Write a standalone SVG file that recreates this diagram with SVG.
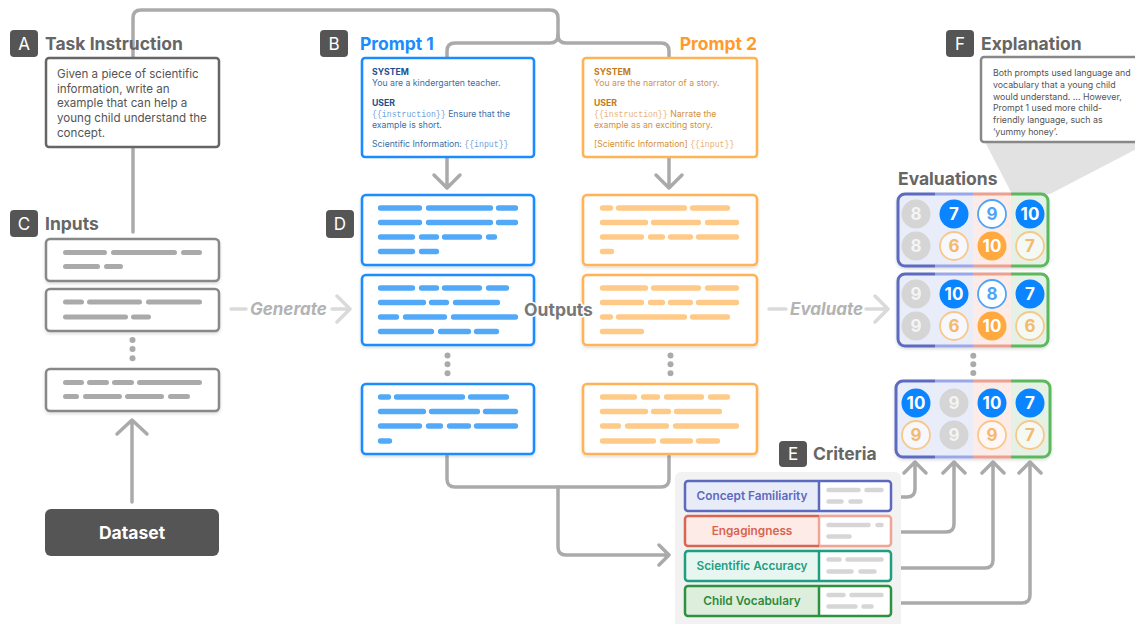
<svg xmlns="http://www.w3.org/2000/svg" width="1135" height="624" viewBox="0 0 1135 624">
<defs>
<style>
text{font-family:Inter,"Liberation Sans",sans-serif}
.badge rect{fill:#555}
.badge text{fill:#fff;font-size:17px;text-anchor:middle}
.title{font-size:17.5px;font-weight:700;fill:#666}
.conn{fill:none;stroke:#aaa;stroke-width:3.5;stroke-linecap:round;stroke-linejoin:round}
.flow{fill:none;stroke:#dadada;stroke-width:3.5;stroke-linecap:round;stroke-linejoin:round}
.flowlbl{font-size:17px;font-weight:700;font-style:italic;fill:#b3b3b3}
.inbox{fill:#fff;stroke:#888;stroke-width:2.5}
.gbar{fill:none;stroke:#aaa;stroke-width:5;stroke-linecap:round}
.bbar{fill:none;stroke:#52a9f7;stroke-width:5.3;stroke-linecap:round}
.obar{fill:none;stroke:#ffca88;stroke-width:5.3;stroke-linecap:round}
.cbar{fill:none;stroke:#d6d6d6;stroke-width:4.5;stroke-linecap:round}
.bout{fill:#fff;stroke:#1a8cff;stroke-width:2.6}
.oout{fill:#fff;stroke:#ffb357;stroke-width:2.6}
.dot{fill:#aaa}
.p1h{font-size:8.7px;font-weight:700;fill:#1d4f91}
.p1t{font-size:8.7px;fill:#3a6ea8}
.p1m{font-family:"Liberation Mono",monospace;fill:#6fa3dc}
.p2h{font-size:8.7px;font-weight:700;fill:#c47a17}
.p2t{font-size:8.7px;fill:#d4903a}
.p2m{font-family:"Liberation Mono",monospace;fill:#e8b274}
.n{font-size:17px;font-weight:700;text-anchor:middle}
.cg{fill:#d5d5d5}
.cb{fill:#0a84ff}
.cbo{fill:#fff;stroke:#4ea5f7;stroke-width:1.8}
.co{fill:#ffa940}
.coo{fill:#fff;fill-opacity:.6;stroke:#f8c88b;stroke-width:1.8}
.tg{fill:#f4f4f4}
.tw{fill:#fff}
.tb{fill:#4ea5f7}
.to{fill:#f3b96c}
.eb{fill:none;stroke-width:3}
.crit{font-size:11.8px;font-weight:600;text-anchor:middle}
</style>
<filter id="sh" x="-10%" y="-10%" width="120%" height="130%">
<feDropShadow dx="0" dy="1.5" stdDeviation="1.5" flood-color="#000" flood-opacity="0.15"/>
</filter>
<clipPath id="ec1"><rect x="898" y="194" width="150" height="72" rx="7"/></clipPath>
<clipPath id="ec2"><rect x="898" y="274" width="150" height="72" rx="7"/></clipPath>
<clipPath id="ec3"><rect x="896" y="381" width="154" height="76" rx="7"/></clipPath>
</defs>
<rect width="1135" height="624" fill="#fff"/>

<!-- callout wedge -->
<polygon points="985,142 1150,142 1050,194 1012,194" fill="#e2e2e2"/>

<g id="connectors">
<path class="conn" d="M133,232V18Q133,10 141,10H550Q558,10 558,18V35Q558,43 550,43H455Q447,43 447,51V58"/>
<path class="conn" d="M558,35Q558,43 566,43H661Q669,43 669,51V58"/>
<path class="conn" d="M447,158V187M434,175L447,188L460,175"/>
<path class="conn" d="M669,158V187M656,175L669,188L682,175"/>
<path class="conn" d="M132,502V421M117,434L132,420L147,434"/>
<path class="conn" d="M447,456V479Q447,487 455,487H661Q669,487 669,479V456"/>
<path class="conn" d="M558,487V547Q558,555 566,555H668M659,545L669,555L659,565"/>
<path class="conn" d="M892,497H907Q915,497 915,489V463M904,473L915,462L926,473"/>
<path class="conn" d="M892,532H946Q954,532 954,524V463M943,473L954,462L965,473"/>
<path class="conn" d="M892,568H985Q993,568 993,560V463M982,473L993,462L1004,473"/>
<path class="conn" d="M892,603H1022Q1030,603 1030,595V463M1019,473L1030,462L1041,473"/>
<path class="flow" d="M231,309H246M332,309H346M337,296L350,309L337,322"/>
<text class="flowlbl" x="250" y="315">Generate</text>
<path class="flow" d="M769,309H786M866,309H884M875,296L888,309L875,322"/>
<text class="flowlbl" x="790" y="315">Evaluate</text>
</g>

<g id="task-instruction">
<g class="badge"><rect x="10" y="30" width="28" height="27" rx="4"/><text x="24" y="50">A</text></g>
<text class="title" x="45" y="50">Task Instruction</text>
<rect x="46" y="58" width="173" height="89" rx="3" fill="#fff" stroke="#666" stroke-width="2.5"/>
<g font-size="11.6" fill="#555">
<text x="57" y="78">Given a piece of scientific</text>
<text x="57" y="92.7">information, write an</text>
<text x="57" y="107.3">example that can help a</text>
<text x="57" y="122">young child understand the</text>
<text x="57" y="136.7">concept.</text>
</g>
</g>

<g id="inputs">
<g class="badge"><rect x="10" y="210" width="28" height="27" rx="4"/><text x="24" y="230">C</text></g>
<text class="title" x="45" y="230">Inputs</text>
<rect class="inbox" x="46" y="239" width="173" height="42" rx="4" filter="url(#sh)"/>
<path class="gbar" d="M65.5,252.5H104.5M113.5,252.5H174.5M183.5,252.5H199.5M65.5,266.5H97.5M106.5,266.5H120.5"/>
<rect class="inbox" x="46" y="289" width="173" height="42" rx="4" filter="url(#sh)"/>
<path class="gbar" d="M65.5,302H81.5M89.5,302H139.5M148.5,302H199.5M65.5,317H125.5M133.5,317H148.5"/>
<circle class="dot" cx="132.5" cy="340" r="3"/><circle class="dot" cx="132.5" cy="349" r="3"/><circle class="dot" cx="132.5" cy="358.3" r="3"/>
<rect class="inbox" x="46" y="369" width="173" height="42" rx="4" filter="url(#sh)"/>
<path class="gbar" d="M65.5,382.5H81.5M89.5,382.5H106.5M114.5,382.5H131.5M139.5,382.5H199.5M65.5,396.5H76.5M85.5,396.5H119.5M127.5,396.5H161.5M170.5,396.5H187.5"/>
</g>

<g id="dataset">
<rect x="45" y="509" width="174" height="47" rx="6" fill="#555"/>
<text x="132" y="539" font-size="17.5" font-weight="700" fill="#fff" text-anchor="middle">Dataset</text>
</g>

<g id="prompt-1">
<g class="badge"><rect x="320" y="30" width="28" height="27" rx="4"/><text x="334" y="50">B</text></g>
<text x="360" y="50" font-size="17.5" font-weight="700" fill="#1a8cff">Prompt 1</text>
<rect class="bout" x="362" y="58" width="172" height="99" rx="3"/>
<text class="p1h" x="372" y="75">SYSTEM</text>
<text class="p1t" x="372" y="86">You are a kindergarten teacher.</text>
<text class="p1h" x="372" y="106">USER</text>
<text class="p1t" x="372" y="117"><tspan class="p1m" font-size="8.2">{{instruction}}</tspan> Ensure that the</text>
<text class="p1t" x="372" y="127.5">example is short.</text>
<text class="p1t" x="372" y="147">Scientific Information: <tspan class="p1m" font-size="8.2">{{input}}</tspan></text>
</g>

<g id="prompt-2">
<text x="757" y="50" font-size="17.5" font-weight="700" fill="#ff9a2e" text-anchor="end">Prompt 2</text>
<rect class="oout" x="583" y="58" width="174" height="99" rx="3"/>
<text class="p2h" x="594" y="75">SYSTEM</text>
<text class="p2t" x="594" y="86">You are the narrator of a story.</text>
<text class="p2h" x="594" y="106">USER</text>
<text class="p2t" x="594" y="117"><tspan class="p2m" font-size="8.2">{{instruction}}</tspan>  Narrate the</text>
<text class="p2t" x="594" y="127.5">example as an exciting story.</text>
<text class="p2t" x="594" y="147">[Scientific Information] <tspan class="p2m" font-size="8.2">{{input}}</tspan></text>
</g>

<g id="outputs">
<g class="badge"><rect x="326" y="210" width="28" height="28" rx="4"/><text x="340" y="230">D</text></g>
<rect class="bout" x="362" y="195" width="172" height="70" rx="4" filter="url(#sh)"/>
<path class="bbar" d="M380.5,208H419.5M428.5,208H490.5M498.5,208H515.5M380.5,222.5H419.5M428.5,222.5H490.5M498.5,222.5H515.5M380.5,237H412.5M421.5,237H436.5M444.5,237H479.5M488.5,237H494.5M380.5,251.5H412.5M421.5,251.5H436.5"/>
<rect class="bout" x="362" y="275" width="172" height="70" rx="4" filter="url(#sh)"/>
<path class="bbar" d="M380.5,288H412.5M421.5,288H436.5M444.5,288H479.5M488.5,288H506.5M380.5,302.5H423.5M431.5,302.5H446.5M455.5,302.5H497.5M380.5,317H396.5M405.5,317H444.5M453.5,317H515.5M380.5,331.5H431.5M440.5,331.5H468.5M476.5,331.5H496.5"/>
<circle class="dot" cx="447.5" cy="355.5" r="3"/><circle class="dot" cx="447.5" cy="364.3" r="3"/><circle class="dot" cx="447.5" cy="373.3" r="3"/>
<rect class="bout" x="362" y="384" width="172" height="70" rx="4" filter="url(#sh)"/>
<path class="bbar" d="M380.5,397H388.5M396.5,397H462.5M470.5,397H506.5M380.5,411.5H423.5M431.5,411.5H477.5M485.5,411.5H515.5M380.5,426H419.5M428.5,426H440.5M449.5,426H468.5M476.5,426H515.5M380.5,441H389.5"/>

<rect class="oout" x="583" y="195" width="174" height="70" rx="4" filter="url(#sh)"/>
<path class="obar" d="M602.5,208H610.5M618.5,208H684.5M692.5,208H727.5M602.5,222.5H645.5M653.5,222.5H698.5M707.5,222.5H736.5M602.5,237H641.5M650.5,237H662.5M670.5,237H690.5M698.5,237H736.5M602.5,251.5H611.5"/>
<rect class="oout" x="583" y="275" width="174" height="70" rx="4" filter="url(#sh)"/>
<path class="obar" d="M602.5,288H645.5M653.5,288H698.5M707.5,288H736.5M602.5,302.5H641.5M650.5,302.5H662.5M670.5,302.5H690.5M698.5,302.5H736.5M602.5,317H610.5M618.5,317H684.5M692.5,317H727.5M602.5,331.5H641.5"/>
<circle class="dot" cx="670.5" cy="355.5" r="3"/><circle class="dot" cx="670.5" cy="364.3" r="3"/><circle class="dot" cx="670.5" cy="373.3" r="3"/>
<rect class="oout" x="583" y="384" width="174" height="70" rx="4" filter="url(#sh)"/>
<path class="obar" d="M602.5,397H634.5M643.5,397H657.5M666.5,397H701.5M710.5,397H727.5M602.5,411.5H645.5M653.5,411.5H668.5M676.5,411.5H719.5M602.5,426H618.5M627.5,426H666.5M675.5,426H736.5M602.5,441H653.5M662.5,441H690.5M698.5,441H717.5"/>
<text x="558.5" y="315.5" font-size="17.5" font-weight="700" fill="#777" text-anchor="middle" stroke="#fff" stroke-width="3" paint-order="stroke">Outputs</text>
</g>

<g id="explanation">
<g class="badge"><rect x="946" y="30" width="28" height="27" rx="4"/><text x="960" y="50">F</text></g>
<text class="title" x="981" y="50">Explanation</text>
<rect x="981" y="57" width="170" height="85" rx="3" fill="#fff" stroke="#888" stroke-width="2.5"/>
<g font-size="8.8" fill="#555">
<text x="993" y="76">Both prompts used language and</text>
<text x="993" y="87.8">vocabulary that a young child</text>
<text x="993" y="99.6">would understand. ... However,</text>
<text x="993" y="111.4">Prompt 1 used more child-</text>
<text x="993" y="123.2">friendly language, such as</text>
<text x="993" y="135">‘yummy honey’.</text>
</g>
</g>

<g id="evaluations">
<text class="title" x="898" y="185">Evaluations</text>
<g id="eval-1" filter="url(#sh)">
<g clip-path="url(#ec1)">
<rect x="898" y="194" width="75" height="72" fill="#e9edfa"/>
<rect x="973" y="194" width="38" height="72" fill="#fcebe7"/>
<rect x="1011" y="194" width="37" height="72" fill="#e4f1e4"/>
</g>
<path class="eb" stroke="#5b6abf" d="M935,194H905A7,7 0 0 0 898,201V259A7,7 0 0 0 905,266H935"/>
<path class="eb" stroke="#9ca7e8" d="M935,194H973M935,266H973"/>
<path class="eb" stroke="#eba091" d="M973,194H1011M973,266H1011"/>
<path class="eb" stroke="#5cb85c" d="M1011,194H1041A7,7 0 0 1 1048,201V259A7,7 0 0 1 1041,266H1011"/>
</g>
<circle class="cg" cx="916" cy="214" r="14.5"/><text class="n tg" x="916" y="220">8</text>
<circle class="cb" cx="954" cy="214" r="14.5"/><text class="n tw" x="954" y="220">7</text>
<circle class="cbo" cx="992" cy="214" r="14"/><text class="n tb" x="992" y="220">9</text>
<circle class="cb" cx="1030" cy="214" r="14.5"/><text class="n tw" x="1030" y="220">10</text>
<circle class="cg" cx="916" cy="246" r="14.5"/><text class="n tg" x="916" y="252">8</text>
<circle class="coo" cx="954" cy="246" r="14"/><text class="n to" x="954" y="252">6</text>
<circle class="co" cx="992" cy="246" r="14.5"/><text class="n tw" x="992" y="252">10</text>
<circle class="coo" cx="1030" cy="246" r="14"/><text class="n to" x="1030" y="252">7</text>

<g id="eval-2" filter="url(#sh)">
<g clip-path="url(#ec2)">
<rect x="898" y="274" width="75" height="72" fill="#e9edfa"/>
<rect x="973" y="274" width="38" height="72" fill="#fcebe7"/>
<rect x="1011" y="274" width="37" height="72" fill="#e4f1e4"/>
</g>
<path class="eb" stroke="#5b6abf" d="M935,274H905A7,7 0 0 0 898,281V339A7,7 0 0 0 905,346H935"/>
<path class="eb" stroke="#9ca7e8" d="M935,274H973M935,346H973"/>
<path class="eb" stroke="#eba091" d="M973,274H1011M973,346H1011"/>
<path class="eb" stroke="#5cb85c" d="M1011,274H1041A7,7 0 0 1 1048,281V339A7,7 0 0 1 1041,346H1011"/>
</g>
<circle class="cg" cx="916" cy="294" r="14.5"/><text class="n tg" x="916" y="300">9</text>
<circle class="cb" cx="954" cy="294" r="14.5"/><text class="n tw" x="954" y="300">10</text>
<circle class="cbo" cx="992" cy="294" r="14"/><text class="n tb" x="992" y="300">8</text>
<circle class="cb" cx="1030" cy="294" r="14.5"/><text class="n tw" x="1030" y="300">7</text>
<circle class="cg" cx="916" cy="326" r="14.5"/><text class="n tg" x="916" y="332">9</text>
<circle class="coo" cx="954" cy="326" r="14"/><text class="n to" x="954" y="332">6</text>
<circle class="co" cx="992" cy="326" r="14.5"/><text class="n tw" x="992" y="332">10</text>
<circle class="coo" cx="1030" cy="326" r="14"/><text class="n to" x="1030" y="332">6</text>

<circle class="dot" cx="973.3" cy="355.7" r="3"/><circle class="dot" cx="973.3" cy="364.2" r="3"/><circle class="dot" cx="973.3" cy="373" r="3"/>

<g id="eval-3" filter="url(#sh)">
<g clip-path="url(#ec3)">
<rect x="896" y="381" width="77" height="76" fill="#e9edfa"/>
<rect x="973" y="381" width="38" height="76" fill="#fcebe7"/>
<rect x="1011" y="381" width="39" height="76" fill="#e4f1e4"/>
</g>
<path class="eb" stroke="#5b6abf" d="M935,381H903A7,7 0 0 0 896,388V450A7,7 0 0 0 903,457H935"/>
<path class="eb" stroke="#9ca7e8" d="M935,381H973M935,457H973"/>
<path class="eb" stroke="#eba091" d="M973,381H1011M973,457H1011"/>
<path class="eb" stroke="#5cb85c" d="M1011,381H1043A7,7 0 0 1 1050,388V450A7,7 0 0 1 1043,457H1011"/>
</g>
<circle class="cb" cx="916" cy="403" r="14.5"/><text class="n tw" x="916" y="409">10</text>
<circle class="cg" cx="954" cy="403" r="14.5"/><text class="n tg" x="954" y="409">9</text>
<circle class="cb" cx="992" cy="403" r="14.5"/><text class="n tw" x="992" y="409">10</text>
<circle class="cb" cx="1030" cy="403" r="14.5"/><text class="n tw" x="1030" y="409">7</text>
<circle class="coo" cx="916" cy="435" r="14"/><text class="n to" x="916" y="441">9</text>
<circle class="cg" cx="954" cy="435" r="14.5"/><text class="n tg" x="954" y="441">9</text>
<circle class="coo" cx="992" cy="435" r="14"/><text class="n to" x="992" y="441">9</text>
<circle class="coo" cx="1030" cy="435" r="14"/><text class="n to" x="1030" y="441">7</text>
</g>

<g id="criteria">
<g class="badge"><rect x="779" y="441" width="28" height="26" rx="4"/><text x="793" y="460">E</text></g>
<text class="title" x="813" y="460">Criteria</text>
<rect x="675" y="472" width="226" height="160" rx="6" fill="#f2f2f2"/>
<g id="crit-concept">
<rect x="685" y="481" width="206" height="30" rx="3" fill="#fff"/>
<rect x="685" y="481" width="134" height="30" rx="3" fill="#e8ecf9"/>
<rect x="685" y="481" width="206" height="30" rx="3" fill="none" stroke="#5b6abf" stroke-width="2.5"/>
<path d="M819,481V511" stroke="#5b6abf" stroke-width="2.5"/>
<text class="crit" x="752" y="500" fill="#5b6abf">Concept Familiarity</text>
<path class="cbar" d="M828.5,490H858.5M866.5,490H881.5M828.5,501.5H841.5M850.5,501.5H860.5"/>
</g>
<g id="crit-engaging">
<rect x="685" y="516" width="206" height="30" rx="3" fill="#fff"/>
<rect x="685" y="516" width="134" height="30" rx="3" fill="#fdebe8"/>
<path d="M819,516H888A3,3 0 0 1 891,519V543A3,3 0 0 1 888,546H819V516" fill="none" stroke="#f0a594" stroke-width="2.5"/>
<path d="M819,516H688A3,3 0 0 0 685,519V543A3,3 0 0 0 688,546H819" fill="none" stroke="#d9644f" stroke-width="2.5"/>
<text class="crit" x="752" y="535" fill="#d9644f">Engagingness</text>
<path class="cbar" d="M828.5,525H868.5M877.5,525H881.5M828.5,536.5H849.5"/>
</g>
<g id="crit-accuracy">
<rect x="685" y="551" width="206" height="30" rx="3" fill="#fff"/>
<rect x="685" y="551" width="134" height="30" rx="3" fill="#e8f6f2"/>
<rect x="685" y="551" width="206" height="30" rx="3" fill="none" stroke="#1f9e80" stroke-width="2.5"/>
<path d="M819,551V581" stroke="#1f9e80" stroke-width="2.5"/>
<text class="crit" x="752" y="570" fill="#1f9e80">Scientific Accuracy</text>
<path class="cbar" d="M828.5,559.5H839.5M847.5,559.5H881.5M828.5,571.5H851.5M860.5,571.5H874.5"/>
</g>
<g id="crit-vocab">
<rect x="685" y="586" width="206" height="30" rx="3" fill="#fff"/>
<rect x="685" y="586" width="134" height="30" rx="3" fill="#deeedd"/>
<rect x="685" y="586" width="206" height="30" rx="3" fill="none" stroke="#2e9140" stroke-width="2.5"/>
<path d="M819,586V616" stroke="#2e9140" stroke-width="2.5"/>
<text class="crit" x="752" y="605" fill="#2e8a3c">Child Vocabulary</text>
<path class="cbar" d="M828.5,595H843.5M851.5,595H881.5M828.5,606.5H855.5M863.5,606.5H871.5"/>
</g>
</g>
</svg>
